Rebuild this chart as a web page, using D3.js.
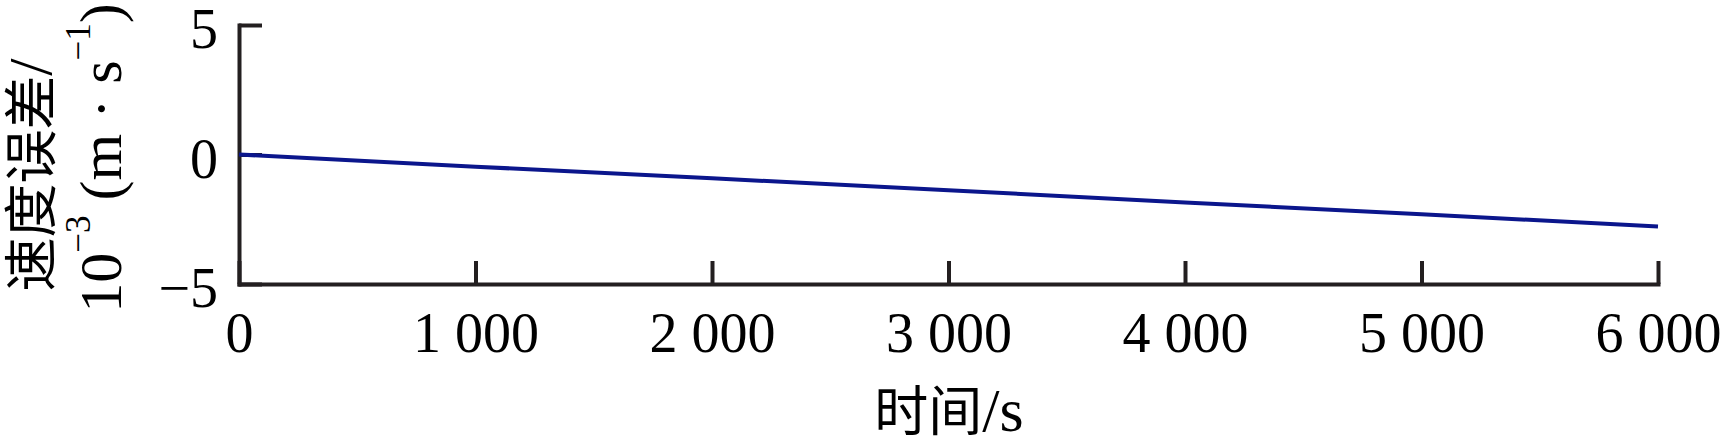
<!DOCTYPE html>
<html>
  <head>
    <meta charset="utf-8">
    <script src="https://d3js.org/d3.v7.min.js"></script>
    <style>
      body { margin: 0; background: #fff; }
      svg { display: block; }
      text { font-family: "Liberation Serif", "Noto Sans CJK SC", serif; fill: #000; }
    </style>
  </head>
  <body>
    <svg width="1724" height="446"></svg>
    <script>
      // time in seconds, velocity error in 1e-3 m/s
      const times = [0, 1000, 2000, 3000, 4000, 5000, 6000];
      const velErr = [0, -0.47, -0.92, -1.38, -1.85, -2.31, -2.78];
      const xTicks = [0, 1000, 2000, 3000, 4000, 5000, 6000];
      const yTicks = [-5, 0, 5];

      const svg = d3.select("svg");
      const margin = { left: 239, right: 66, top: 25, bottom: 162 };
      const width = 1724;
      const height = 446;

      const x = d3.scaleLinear().domain([0, 6000]).range([margin.left, width - margin.right]);
      const y = d3.scaleLinear().domain([-5, 5]).range([height - margin.bottom, margin.top]);

      const fmt = d => d3.format(",")(d).replace(",", " ");

      const xAxis = svg.append("g")
        .attr("transform", `translate(0,${y(-5)})`)
        .call(d3.axisBottom(x).tickValues(xTicks).tickFormat(fmt)
          .tickSizeInner(-23).tickSizeOuter(0).tickPadding(28));

      const yAxis = svg.append("g")
        .attr("transform", `translate(${x(0)},0)`)
        .call(d3.axisLeft(y).tickValues(yTicks).tickFormat(d => d < 0 ? "\u2212" + Math.abs(d) : d)
          .tickSizeInner(-23).tickSizeOuter(0).tickPadding(21));

      [xAxis, yAxis].forEach(g => {
        g.select(".domain").attr("stroke", "#231f20").attr("stroke-width", 4).attr("stroke-linecap", "square");
        g.selectAll(".tick line").attr("stroke", "#231f20").attr("stroke-width", 4);
        g.selectAll(".tick text").attr("font-size", 56).attr("fill", "#000")
          .style("font-family", "'Liberation Serif', serif");
      });
      yAxis.selectAll(".tick text").attr("dy", "0.41em");

      // data line
      const line = d3.line().x(d => x(d[0])).y(d => y(d[1]));
      svg.append("path")
        .datum(times.map((t, i) => [t, velErr[i]]))
        .attr("d", line)
        .attr("fill", "none")
        .attr("stroke", "#0b168c")
        .attr("stroke-width", 4);

      // x axis title
      const xt = svg.append("text")
        .attr("x", 949).attr("y", 431)
        .attr("text-anchor", "middle")
        .attr("font-size", 54);
      xt.append("tspan").text("时间");
      xt.append("tspan").attr("font-size", 62).text("/s");

      // y axis title, two rotated lines
      const t1 = svg.append("text")
        .attr("transform", "translate(51,175) rotate(-90)")
        .attr("text-anchor", "middle")
        .attr("font-size", 54);
      t1.append("tspan").text("速度误差");
      t1.append("tspan").attr("font-size", 62).text("/");

      const t2 = svg.append("text")
        .attr("transform", "translate(121,158) rotate(-90)")
        .attr("text-anchor", "middle")
        .attr("font-size", 60);
      t2.append("tspan").text("10");
      t2.append("tspan").attr("font-size", 35).attr("dy", -31).text("\u2212" + "3");
      t2.append("tspan").attr("dy", 31).text(" (m \u00b7 s");
      t2.append("tspan").attr("font-size", 35).attr("dy", -31).text("\u2212" + "1");
      t2.append("tspan").attr("dy", 31).text(")");
    </script>
  </body>
</html>
